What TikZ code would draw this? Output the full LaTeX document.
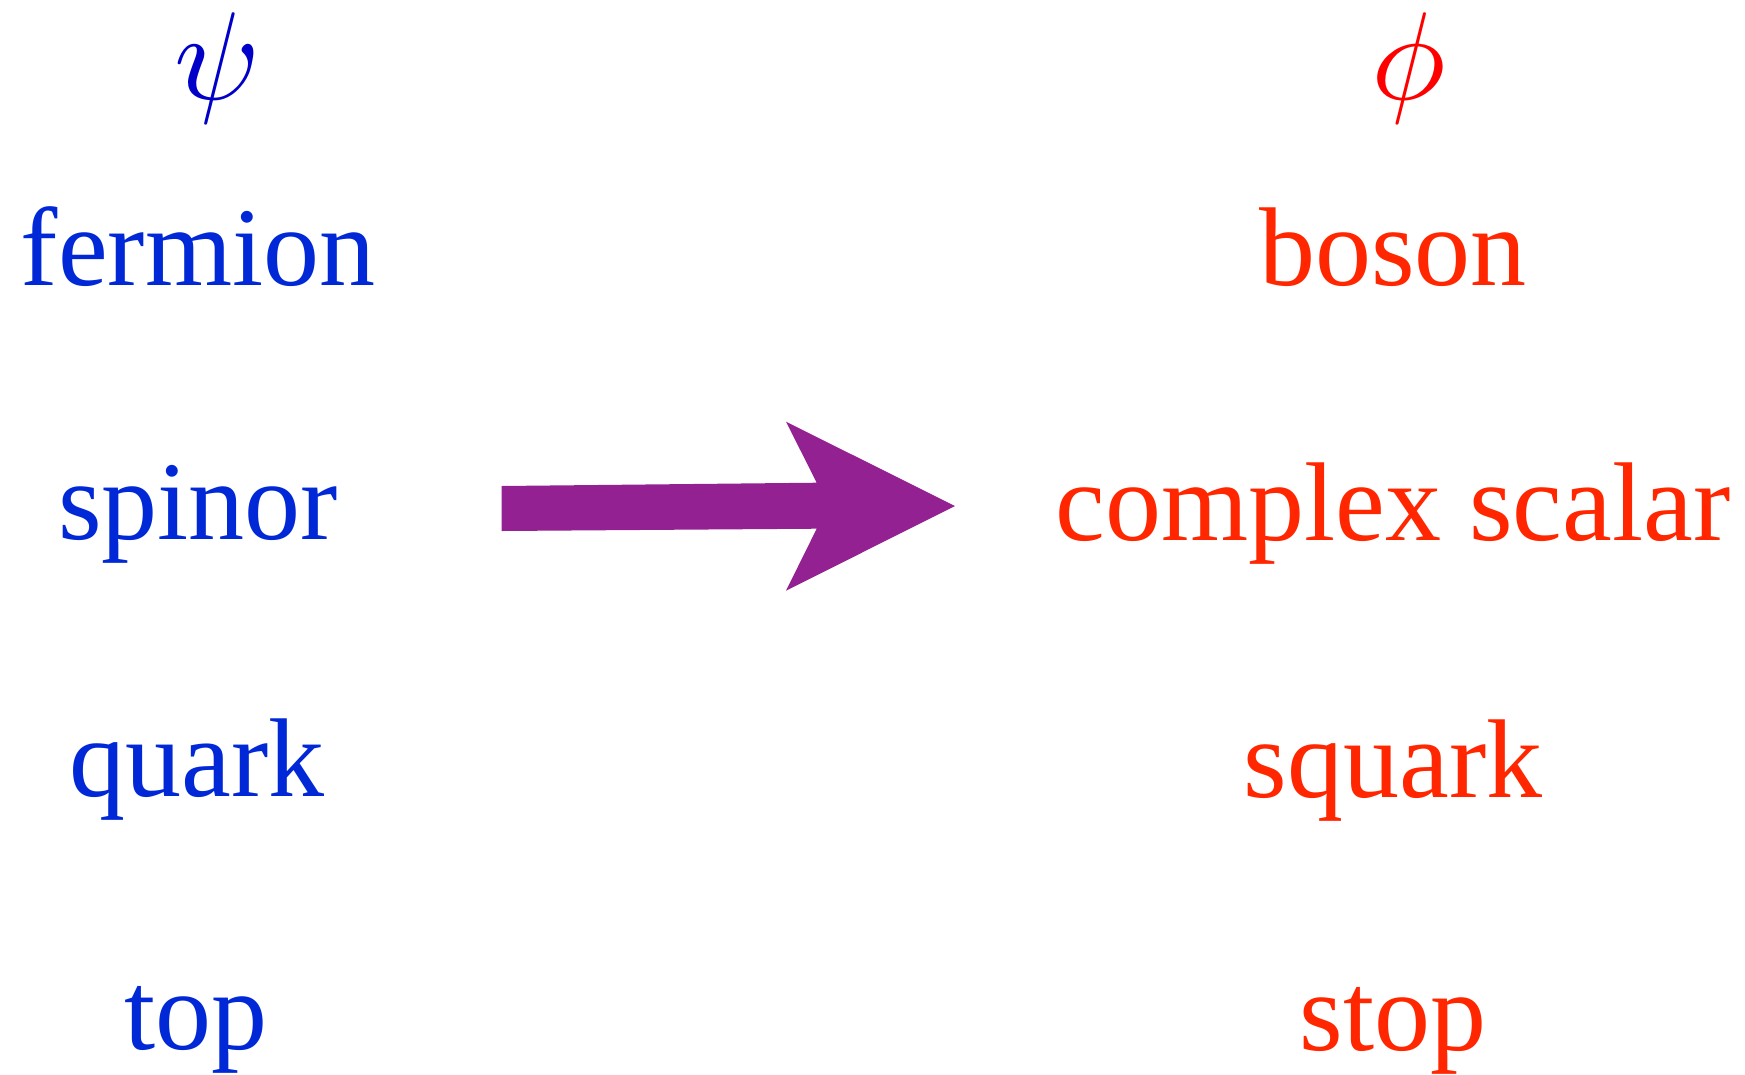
\documentclass[tikz,border=0pt]{standalone}
\usepackage{graphicx}
\usepackage{fontspec}
\setmainfont{Liberation Serif}
\definecolor{fblue}{RGB}{0,40,215}
\definecolor{fred}{RGB}{255,38,0}
\definecolor{psiblue}{RGB}{0,0,200}
\definecolor{phired}{RGB}{255,0,0}
\definecolor{apurple}{RGB}{148,33,146}
\tikzset{
  word/.style={inner sep=0pt, anchor=base, font=\fontsize{112}{130}\selectfont},
  ferm/.style={word, text=fblue},
  bos/.style={word, text=fred},
  sym/.style={inner sep=0pt, anchor=base},
  bigarrow/.style={fill=apurple, draw=none}
}
\begin{document}
\begin{tikzpicture}[x=1pt,y=-1pt]
\useasboundingbox (0,0) rectangle (1745,1074);
\node[sym, text=psiblue] (psi) at (217,99) {\scalebox{12.5}{$\psi$}};
\node[sym, text=phired] (phi) at (1409,99) {\scalebox{12.5}{$\phi$}};
\node[ferm] (fermion) at (198,285) {fermion};
\node[ferm] (spinor) at (198,539) {spinor};
\node[ferm] (quark) at (197,796) {quark};
\node[ferm] (top) at (196,1049) {top};
\node[bos] (boson) at (1393,285) {boson};
\node[bos] (cscalar) at (1393,540) {complex scalar};
\node[bos] (squark) at (1393,797) {squark};
\node[bos] (stop) at (1393,1050) {stop};
\coordinate (sL1) at (501.7,486);
\coordinate (sR1) at (816.7,482.7);
\coordinate (hT) at (786,421.7);
\coordinate (tip) at (955,506);
\coordinate (hB) at (786,590.7);
\coordinate (sR2) at (816.7,528.7);
\coordinate (sL2) at (501.7,531);
\fill[bigarrow] (sL1) -- (sR1) -- (hT) -- (tip) -- (hB) -- (sR2) -- (sL2) -- cycle;
\end{tikzpicture}
\end{document}
